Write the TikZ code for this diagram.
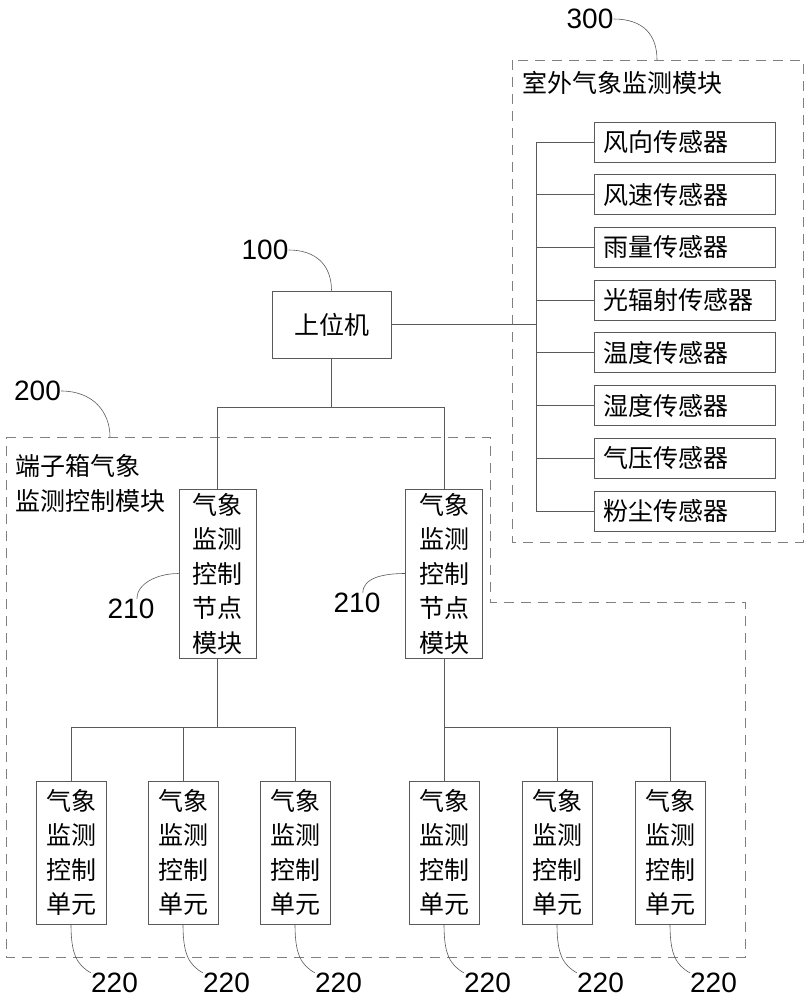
\documentclass[tikz,border=0pt]{standalone}
\usepackage{fontspec}
\newfontfamily\cjkfont{Noto Sans CJK SC}
\newfontfamily\numfont{Liberation Sans}
\usepackage{tikz}
\usetikzlibrary{positioning}
\definecolor{linegray}{HTML}{5A5A5A}
\definecolor{dashgray}{HTML}{808080}

\begin{document}
\begin{tikzpicture}[x=1pt,y=-1pt,
  every node/.style={font=\cjkfont\fontsize{25}{34.5}\selectfont},
  box/.style={rectangle,draw=linegray,line width=0.8pt,inner sep=0pt,align=center},
  sensor/.style={box,minimum width=181pt,minimum height=40pt,text width=163pt,align=left},
  ctrlnode/.style={box,minimum width=77pt,minimum height=169pt},
  unit/.style={box,minimum width=70pt,minimum height=143pt},
  num/.style={inner sep=0pt,font=\numfont\fontsize{28}{28}\selectfont},
  wire/.style={draw=linegray,line width=0.8pt},
  leader/.style={draw=linegray,line width=0.6pt},
  zone/.style={draw=dashgray,line width=0.8pt,dash pattern=on 10pt off 7pt}]
  \useasboundingbox (0,0) rectangle (809,1000);

  \draw[zone] (512,60) rectangle (803,542);
  \draw[zone] (6,437) -- (490,437) -- (490,602) -- (745,602) -- (745,957) -- (6,957) -- cycle;
  \coordinate (tip300) at (657,60);
  \coordinate (tip200) at (110,437);
  \coordinate (bus) at (536,0);
  \coordinate (split) at (0,407);
  \coordinate (ubus) at (0,727);

  \node[anchor=west,inner sep=0pt] (outdoor) at (522,83) {室外气象监测模块};
  \node[anchor=west,inner sep=0pt,align=left] (terminal) at (15,483.5) {端子箱气象\\监测控制模块};

  \foreach \s [count=\i] in {风向传感器,风速传感器,雨量传感器,光辐射传感器,
    温度传感器,湿度传感器,气压传感器,粉尘传感器}
    \node[sensor] (s\i) at (684.5,{142+52.7*(\i-1)}) {\s};
  \foreach \i in {1,...,8}
    \draw[wire] (s\i.west) -- (s\i.west -| bus);
  \draw[wire] (s1.west -| bus) -- (s8.west -| bus);

  \node[box,minimum width=119pt,minimum height=67pt] (host) at (331.5,324.5) {上位机};
  \draw[wire] (host.east) -- (host.east -| bus);

  \node[ctrlnode] (node1) at (217.5,573.5) {气象\\监测\\控制\\节点\\模块};
  \node[ctrlnode] (node2) at (444,573.5) {气象\\监测\\控制\\节点\\模块};
  \draw[wire] (host.south) -- (host.south |- split);
  \draw[wire] (node1.north) -- (node1.north |- split) -- (node2.north |- split) -- (node2.north);

  \foreach \x [count=\i] in {71,183,295,444,557,670} {
    \node[unit] (u\i) at (\x,852.5) {气象\\监测\\控制\\单元};
    \node[num] (lab220-\i) at (\x+43.5,983) {220};
    \draw[leader] (u\i.south) .. controls +(0,30) and +(-14,-8) .. (lab220-\i.north west);
  }
  \draw[wire] (u1.north) -- (u1.north |- ubus) -- (u3.north |- ubus) -- (u3.north);
  \draw[wire] (u2.north) -- (u2.north |- ubus);
  \draw[wire] (node1.south) -- (node1.south |- ubus);
  \draw[wire] (u4.north) -- (u4.north |- ubus) -- (u6.north |- ubus) -- (u6.north);
  \draw[wire] (u5.north) -- (u5.north |- ubus);
  \draw[wire] (node2.south) -- (node2.south |- ubus);

  \node[num] (lab300) at (590,19) {300};
  \node[num] (lab100) at (265,250) {100};
  \node[num] (lab200) at (37.5,391) {200};
  \node[num] (lab210a) at (131,609) {210};
  \node[num] (lab210b) at (357,603) {210};
  \draw[leader] (lab300.east) .. controls +(30,0) and +(0,-25) .. (tip300);
  \draw[leader] (lab100.east) .. controls +(28,0) and +(0,-25) .. (host.north);
  \draw[leader] (lab200.east) .. controls +(32,0) and +(0,-25) .. (tip200);
  \draw[leader] (lab210a.60) .. controls +(0,-15) and +(-22,0) .. (node1.west);
  \draw[leader] (lab210b.60) .. controls +(0,-15) and +(-22,0) .. (node2.west);
\end{tikzpicture}
\end{document}
